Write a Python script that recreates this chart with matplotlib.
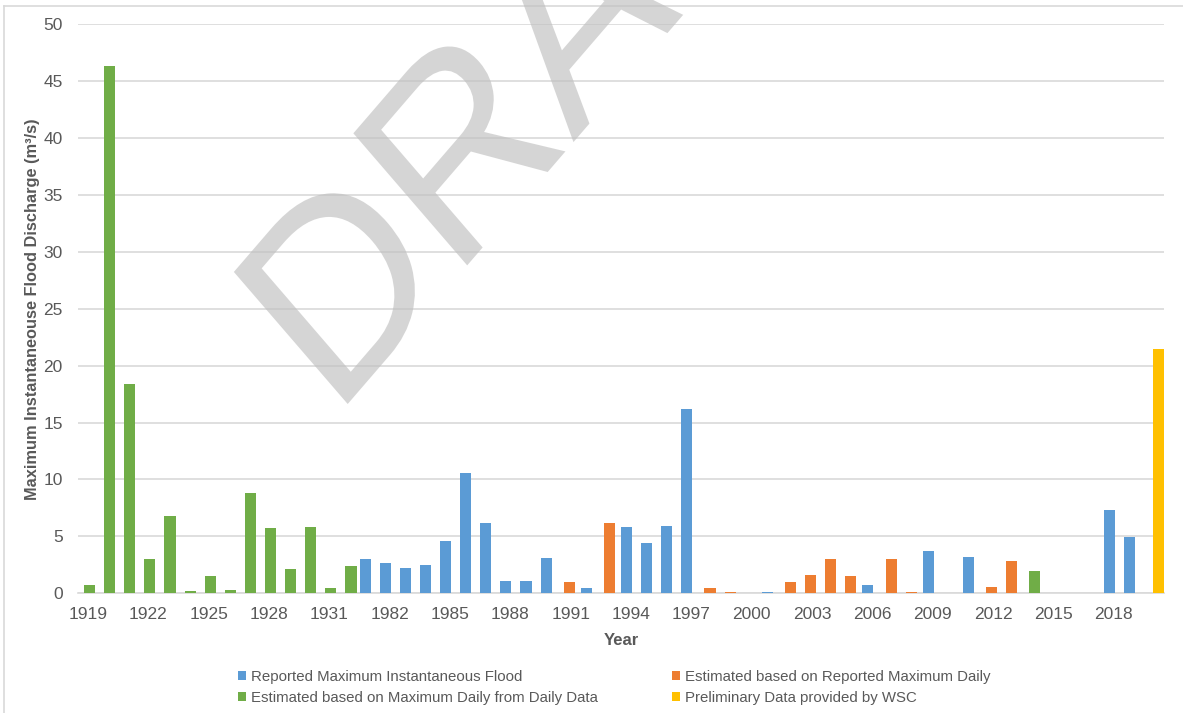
import numpy as np
import matplotlib
matplotlib.use("Agg")
import matplotlib.pyplot as plt
from matplotlib.patches import Patch, PathPatch
from matplotlib.lines import Line2D
from matplotlib.textpath import TextPath
from matplotlib.font_manager import FontProperties
from matplotlib.transforms import Affine2D

plt.rcParams["font.family"] = ["Liberation Sans", "DejaVu Sans"]

# Annual maximum instantaneous flood discharge (m3/s) and source of each value
years = ([str(y) for y in range(1919, 1933)] + ["1981"]
         + [str(y) for y in range(1982, 2021)])
discharge = [
    0.75, 46.3, 18.35, 3.05, 6.75, 0.2, 1.5, 0.25, 8.8, 5.75, 2.1, 5.85, 0.5, 2.4,   # 1919-1932
    3.05,                                                                          # 1981
    2.65, 2.25, 2.45, 4.6, 10.6, 6.15, 1.05, 1.05, 3.1, 1.0,                         # 1982-1991
    0.45, 6.15, 5.85, 4.4, 5.95, 16.2, 0.5, 0.15, np.nan, 0.08,                      # 1992-2001
    0.95, 1.6, 3.05, 1.5, 0.7, 3.05, 0.15, 3.75, np.nan, 3.15,                       # 2002-2011
    0.55, 2.85, 1.95, np.nan, np.nan, np.nan, 7.35, 4.95, 21.5,                      # 2012-2020
]
# R = reported instantaneous, E = estimated from reported max daily,
# D = estimated from daily data, P = preliminary (WSC)
source = (list("DDDDDDDDDDDDDD") + ["R"]
          + list("RRRRRRRRRE") + list("RERRRREERR")
          + list("EEEEREERRR") + list("EEDRRRRRP"))

# series in plotting order (clustered with heavy overlap)
series = [
    ("R", "Reported Maximum Instantaneous Flood", "#5B9BD5"),
    ("E", "Estimated based on Reported Maximum Daily", "#ED7D31"),
    ("D", "Estimated based on Maximum Daily from Daily Data", "#70AD47"),
    ("P", "Preliminary Data provided by WSC", "#FFC000"),
]

text_color = "#595959"
grid_color = "#d9d9d9"

fig = plt.figure(figsize=(11.83, 7.13), dpi=100)
ax = fig.add_axes([0.0659, 0.1679, 0.9181, 0.7980])

x = np.arange(len(years))
vals = np.array(discharge, dtype=float)
src = np.array(source)

bar_w = 0.55
step = 0.15
handles = {}
for i, (code, label, color) in enumerate(series):
    m = src == code
    ax.bar(x[m] + (i - 1.5) * step, vals[m], width=bar_w, color=color, zorder=3)
    handles[code] = Patch(facecolor=color, label=label)

ax.set_xlim(-0.5, len(years) - 0.5)
ax.set_ylim(0, 50)
ax.set_yticks(np.arange(0, 51, 5))
ax.set_xticks(x[::3])
ax.set_xticklabels(years[::3])
ax.tick_params(axis="both", length=0, labelsize=12.5, colors=text_color)
ax.tick_params(axis="y", pad=11)
ax.tick_params(axis="x", pad=10)
ax.grid(axis="y", color=grid_color, linewidth=1.2, zorder=0)
ax.set_axisbelow(True)
for side in ("top", "right", "left"):
    ax.spines[side].set_visible(False)
ax.spines["bottom"].set_color(grid_color)
ax.spines["bottom"].set_linewidth(1.2)

ax.set_ylabel("Maximum Instantaneouse Flood Discharge (m\u00b3/s)",
              fontsize=11.8, fontweight="bold", color=text_color)
ax.yaxis.set_label_coords(-0.035, 0.5)
ax.set_xlabel("Year", fontsize=12, fontweight="bold", color=text_color)
ax.xaxis.set_label_coords(0.5, -0.07)

order = ["R", "D", "E", "P"]
fig.legend(handles=[handles[c] for c in order], loc="center",
           bbox_to_anchor=(0.519, 0.036), ncol=2, frameon=False,
           handlelength=0.55, handleheight=0.55, handletextpad=0.3,
           columnspacing=4.95, labelspacing=0.45, labelcolor=text_color,
           prop={"family": "Liberation Sans", "size": 10.8})

# diagonal watermark
wm_prop = FontProperties(family="Liberation Sans")
d_box = TextPath((0, 0), "D", size=1, prop=wm_prop).get_extents()
wm_size = 161.0 / d_box.y1
wm_path = TextPath((0, 0), "DRAFT", size=wm_size, prop=wm_prop)
wm_tr = Affine2D().rotate_deg(45).scale(1.0, 1.16)
corner = wm_tr.transform((d_box.x0 * wm_size, 0.0))
wm_tr = wm_tr.translate(347.7 - corner[0], (713 - 404.0) - corner[1])
fig.add_artist(PathPatch(wm_path, transform=wm_tr, facecolor="#bfbfbf",
                         edgecolor="none", alpha=0.65, zorder=5))

# chart frame
fig.add_artist(Line2D([4 / 1183, 1.0], [1 - 6 / 713, 1 - 6 / 713],
                      transform=fig.transFigure, color=grid_color, linewidth=1.2))
fig.add_artist(Line2D([4 / 1183, 4 / 1183], [0.0, 1 - 6 / 713],
                      transform=fig.transFigure, color=grid_color, linewidth=1.2))

fig.savefig("out.png", dpi=100, facecolor="white")
